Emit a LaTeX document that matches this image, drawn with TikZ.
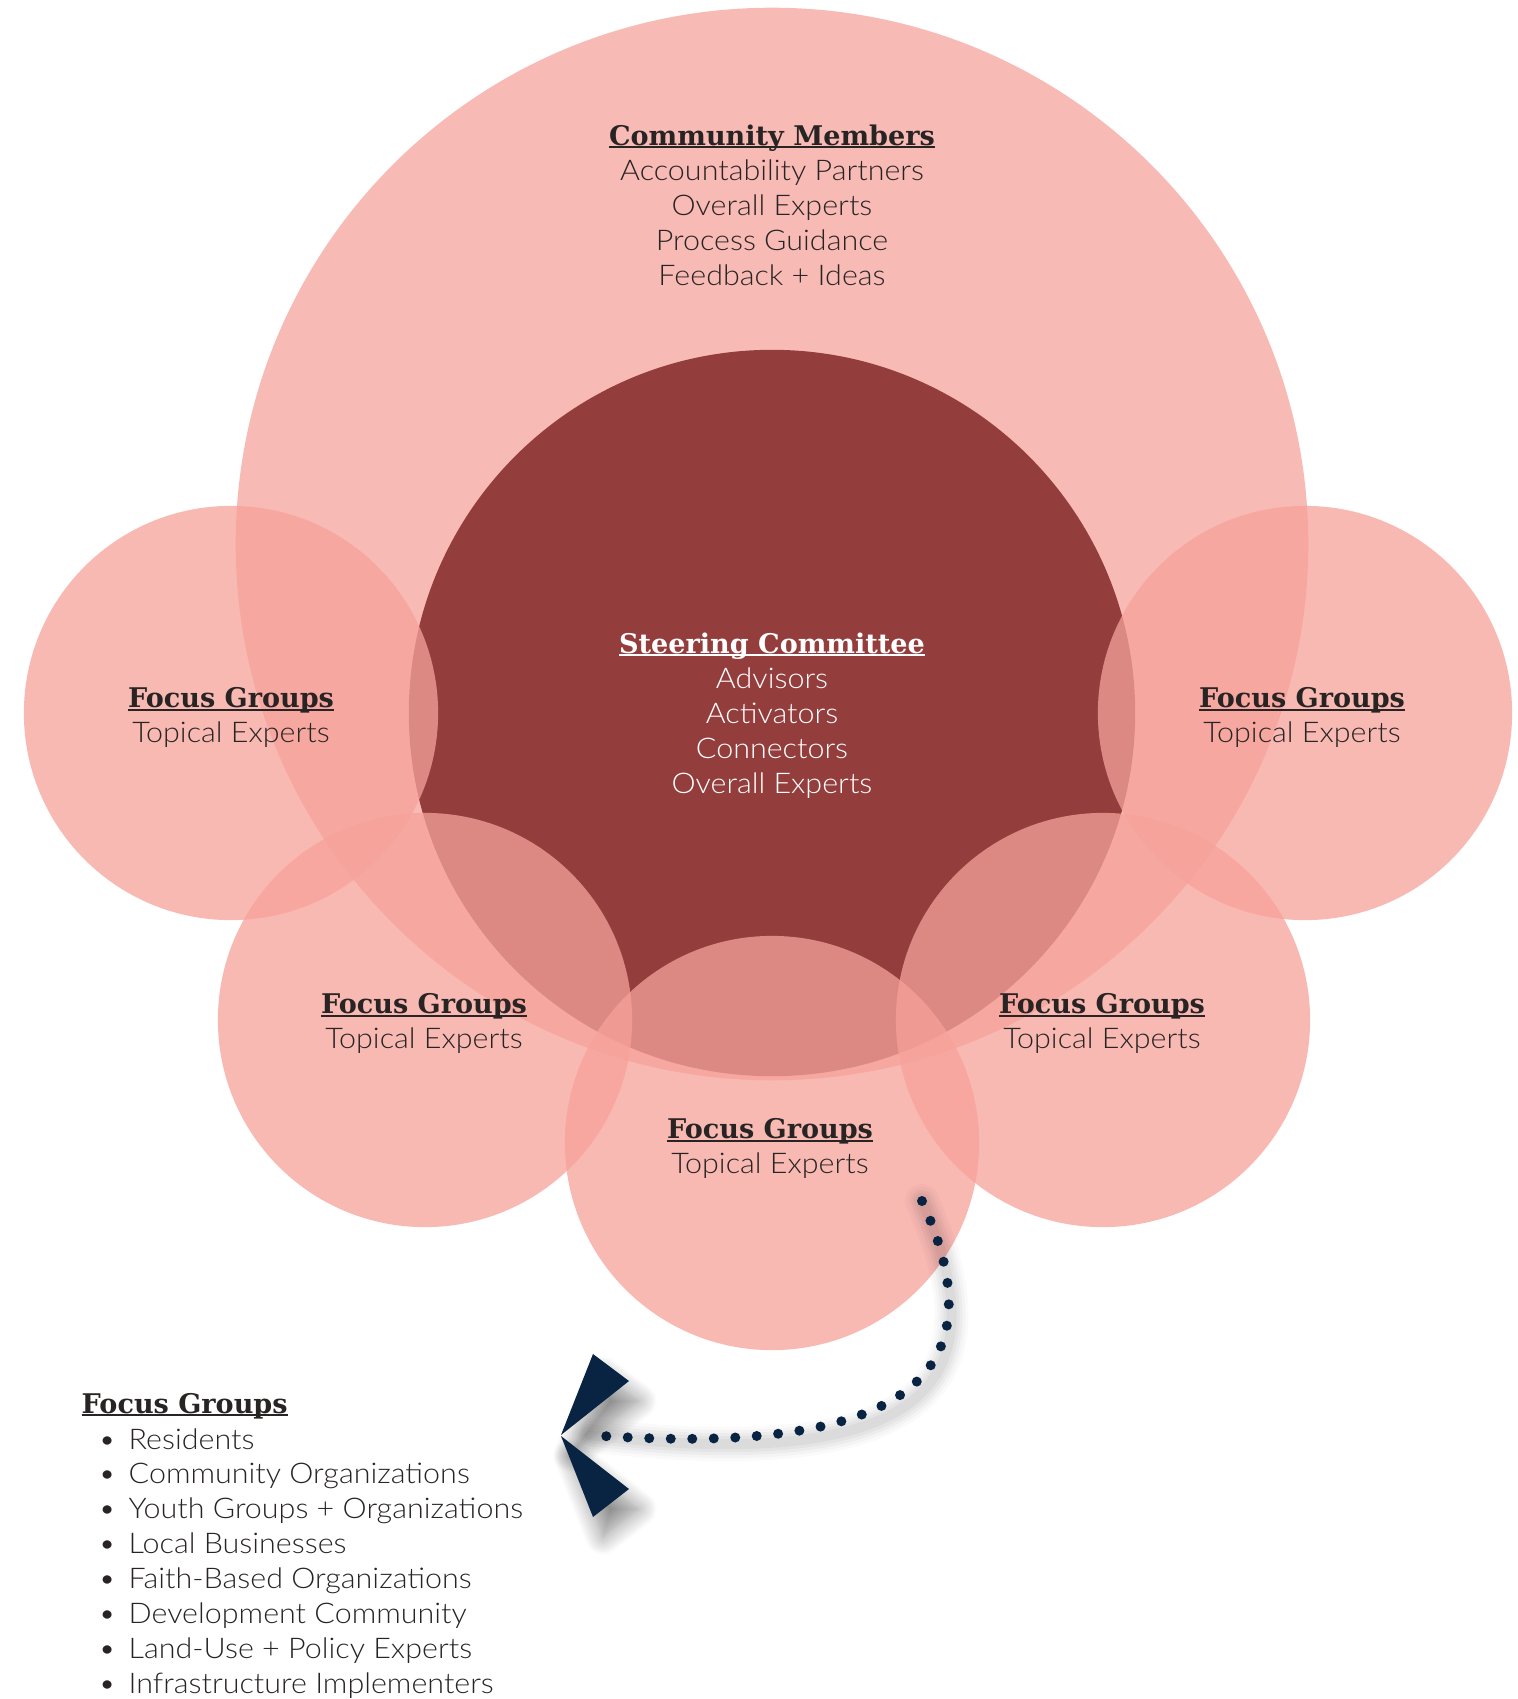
\documentclass[tikz,border=0pt]{standalone}
\usepackage{fontspec}
\usepackage{xcolor}
\usetikzlibrary{positioning,shadows.blur}
\newfontfamily\bodyfont{Lato Light}[FakeStretch=1.07]
\newfontfamily\headfont{DejaVu Serif}
\definecolor{memberpink}{RGB}{248,186,180}
\definecolor{focuspink}{RGB}{246,162,154}
\definecolor{steerred}{RGB}{147,62,61}
\definecolor{inkgrey}{RGB}{40,36,36}
\definecolor{arrownavy}{RGB}{9,36,66}
% bold heading with a thin rule just under the baseline
\newcommand{\grouphead}[1]{{\headfont\bfseries\fontsize{7.7}{9.96}\selectfont
    \setbox0=\hbox{#1}\rlap{\rule[-0.9pt]{\wd0}{0.6pt}}\box0}}

\begin{document}
\begin{tikzpicture}[x=0.01cm, y=-0.01cm,
    grouptext/.style={align=center, anchor=north, inner sep=0pt, text=inkgrey,
        font=\bodyfont\fontsize{8.1}{9.96}\selectfont},
    focuscircle/.style={fill=focuspink, fill opacity=0.755},
    listtext/.style={anchor=base west, inner sep=0pt, text=inkgrey,
        font=\bodyfont\fontsize{8.1}{9.96}\selectfont},
    headshadow/.style={blur shadow={shadow xshift=0.1cm, shadow yshift=-0.2cm,
        shadow opacity=45, shadow blur radius=0.18cm, shadow blur steps=12}}]
\useasboundingbox (0,0) rectangle (1518,1699);

% circles
\fill[memberpink] (772,544) circle (5.36cm);
\fill[steerred] (772,713) circle (3.63cm);
\foreach \cx/\cy in {231/713, 1305/713, 425/1020, 1103/1020, 772/1143} {
    \fill[focuscircle] (\cx,\cy) circle (2.07cm);
}

% circle texts
\node[grouptext] (members) at (772,124) {\grouphead{Community Members}\\Accountability Partners\\Overall Experts\\Process Guidance\\Feedback + Ideas};
\node[grouptext, text=white] (steering) at (772,632) {\grouphead{Steering Committee}\\Advisors\\Activators\\Connectors\\Overall Experts};
\node[grouptext] (focus west) at (231,687) {\grouphead{Focus Groups}\\Topical Experts};
\node[grouptext] (focus east) at (1302,687) {\grouphead{Focus Groups}\\Topical Experts};
\node[grouptext] (focus southwest) at (424,993) {\grouphead{Focus Groups}\\Topical Experts};
\node[grouptext] (focus southeast) at (1102,993) {\grouphead{Focus Groups}\\Topical Experts};
\node[grouptext] (focus south) at (770,1118) {\grouphead{Focus Groups}\\Topical Experts};

% list of focus groups
\node[listtext] (list head) at (81,1413) {\grouphead{Focus Groups}};
\foreach \entry [count=\i] in {Residents, Community Organizations, Youth Groups + Organizations,
    Local Businesses, Faith-Based Organizations, Development Community,
    Land-Use + Policy Experts, Infrastructure Implementers} {
    \node[listtext] (entry\i) at (128,{1449+34.9*(\i-1)}) {\llap{\textbullet\hspace{3.6pt}}\entry};
}

% dotted arrow from the bottom circle to the list
\coordinate (lead in) at (922,1201);
\coordinate (lead out) at (589,1435);
\foreach \w/\o in {3.4mm/0.02, 2.8mm/0.025, 2.2mm/0.03, 1.6mm/0.035, 1.0mm/0.04} {
    \draw[black, opacity=\o, line width=\w, line cap=round, xshift=0.05cm, yshift=-0.16cm]
        (lead in) .. controls (995,1360) and (930,1460) .. (lead out);
}
\draw[arrownavy, line width=1mm, line cap=round, dash pattern=on 0pt off 0.215cm]
    (lead in) .. controls (995,1360) and (930,1460) .. (lead out);
\fill[arrownavy, headshadow] (561,1435) -- (593,1354) -- (629,1381) -- cycle;
\fill[arrownavy, headshadow] (561,1436) -- (593,1517) -- (629,1489) -- cycle;
\end{tikzpicture}
\end{document}
